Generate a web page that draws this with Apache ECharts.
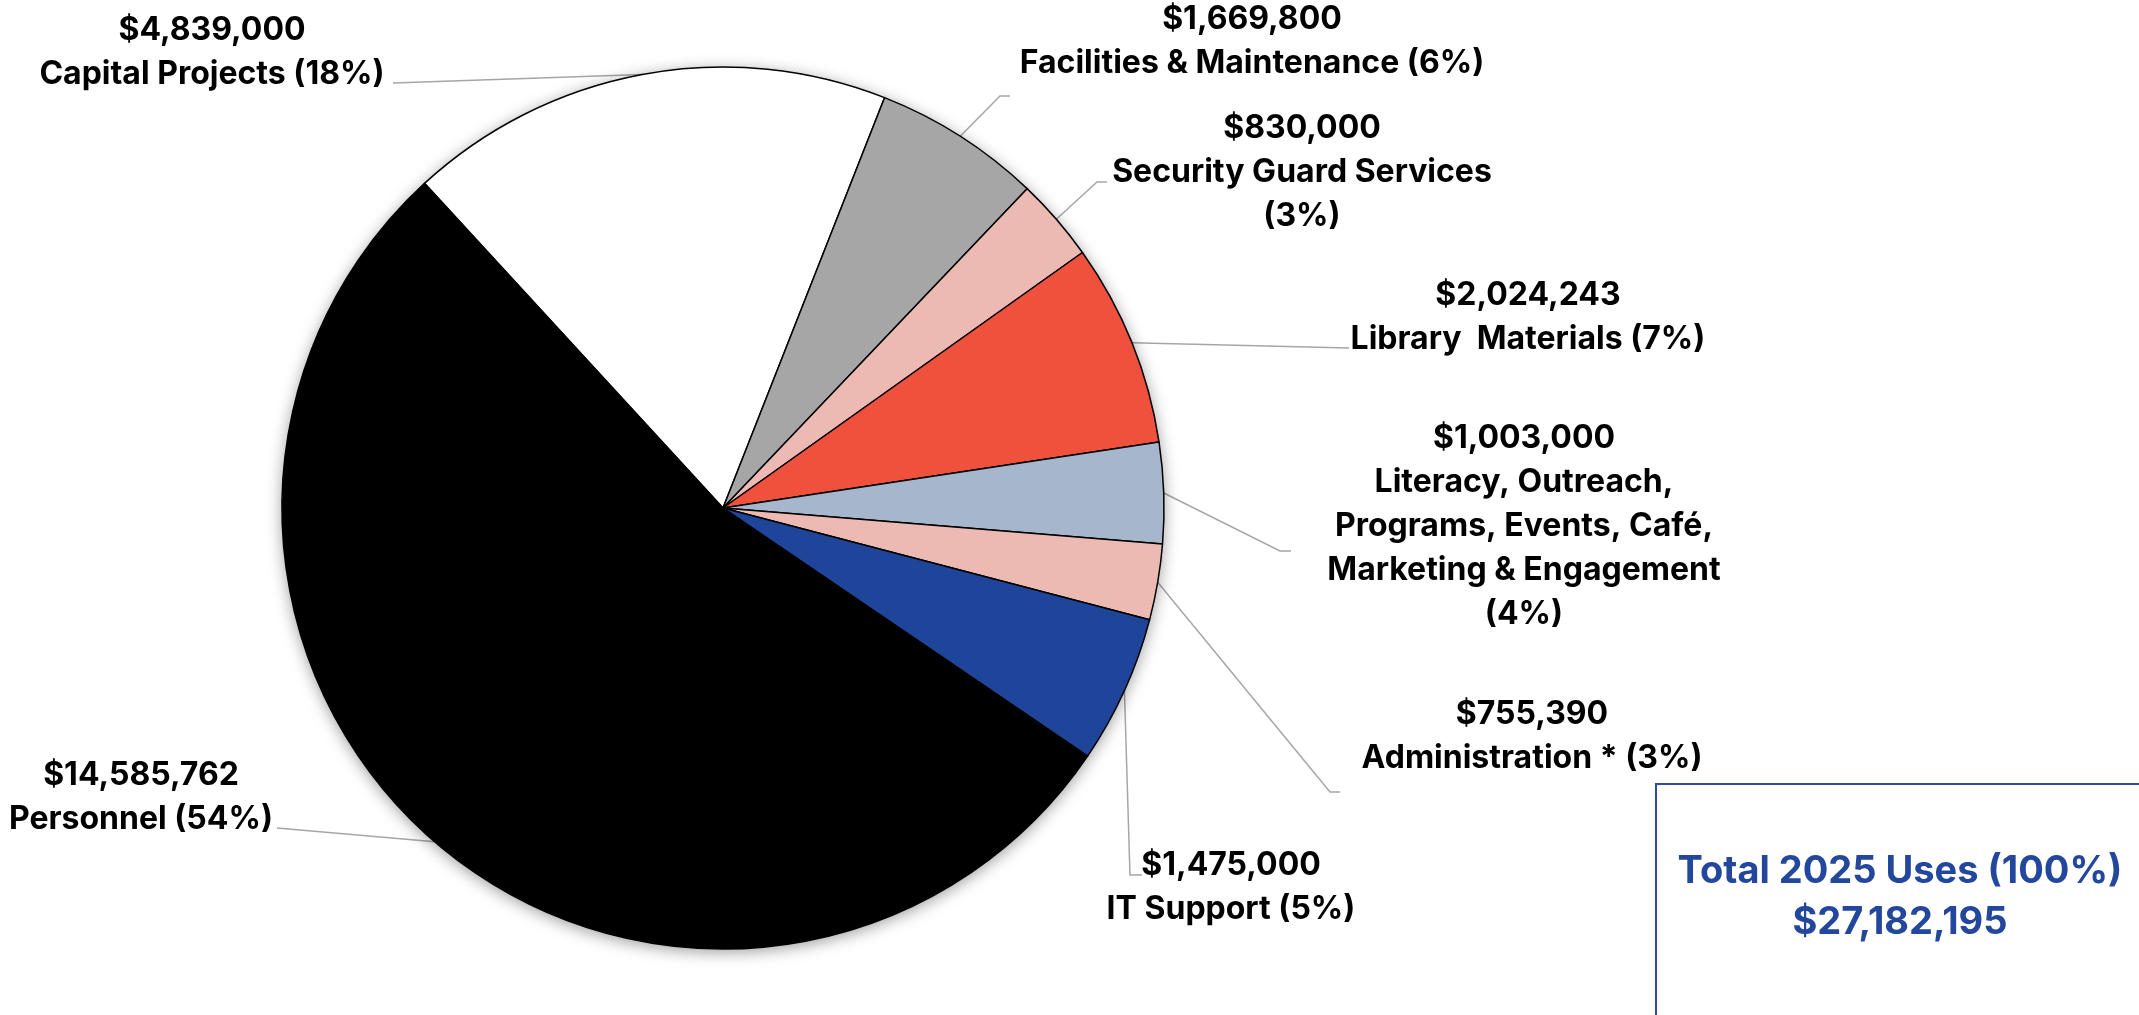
<!DOCTYPE html>
<html>
<head>
<meta charset="utf-8">
<script src="https://cdn.jsdelivr.net/npm/echarts@6/dist/echarts.min.js"></script>
<style>
  html, body { margin: 0; padding: 0; background: #ffffff; }
  #chart { width: 2139px; height: 1015px; }
</style>
</head>
<body>
<div id="chart"></div>
<script>
// 2025 uses of funds, listed clockwise starting from Capital Projects
const categories = [
  'Capital Projects',
  'Facilities & Maintenance',
  'Security Guard Services',
  'Library  Materials',
  'Literacy, Outreach, Programs, Events, Café, Marketing & Engagement',
  'Administration *',
  'IT Support',
  'Personnel'
];
const amounts = [4839000, 1669800, 830000, 2024243, 1003000, 755390, 1475000, 14585762];
const sliceColors = ['#FFFFFF', '#A6A6A6', '#EDBAB3', '#F0513C', '#A6B6CC', '#EDBAB3', '#1F459A', '#000000'];

// how each category name is wrapped in its label (the percentage follows)
const wrappedNames = [
  'Capital Projects ',
  'Facilities & Maintenance ',
  'Security Guard Services\n',
  'Library  Materials ',
  'Literacy, Outreach,\nPrograms, Events, Café,\nMarketing & Engagement\n',
  'Administration * ',
  'IT Support ',
  'Personnel '
];

// label block centres and leader-line bend / end points (page pixels)
const labelAnchors = [[212, 52], [1252, 41], [1302, 172], [1528, 317], [1524, 526], [1532, 736], [1231, 887], [141, 797]];
const leaderBends = [
  [[393, 83], [393, 83]],
  [[1000, 96], [1010, 96]],
  [[1097, 182], [1107, 182]],
  [[1349, 348], [1349, 348]],
  [[1280, 551], [1291, 551]],
  [[1330, 792], [1340, 792]],
  [[1130, 875], [1142, 875]],
  [[277, 828], [277, 828]]
];

const PIE_CENTER = [723, 508];
const PIE_RADIUS = 441;
const LABEL_FONT = 'Inter, "Open Sans", "Liberation Sans", sans-serif';

const money = v => '$' + v.toLocaleString('en-US');
const total = amounts.reduce((a, b) => a + b, 0);

const sliceData = categories.map((name, i) => ({
  name: name,
  value: amounts[i],
  itemStyle: { color: sliceColors[i] }
}));

const chart = echarts.init(document.getElementById('chart'), null, { renderer: 'canvas' });

chart.setOption({
  backgroundColor: '#ffffff',
  animation: false,
  series: [
    {
      // soft drop shadow underneath the pie
      type: 'pie',
      silent: true,
      center: PIE_CENTER,
      radius: PIE_RADIUS,
      startAngle: 132.6,
      clockwise: true,
      label: { show: false },
      labelLine: { show: false },
      itemStyle: {
        color: '#ffffff',
        shadowBlur: 16,
        shadowOffsetX: 0,
        shadowOffsetY: 3,
        shadowColor: 'rgba(0,0,0,0.4)'
      },
      data: amounts.map((v, i) => ({ name: categories[i], value: v }))
    },
    {
      type: 'pie',
      center: PIE_CENTER,
      radius: PIE_RADIUS,
      startAngle: 132.6,
      clockwise: true,
      avoidLabelOverlap: false,
      percentPrecision: 0,
      itemStyle: { borderColor: '#000000', borderWidth: 1.5 },
      emphasis: { disabled: true },
      label: {
        show: true,
        position: 'outside',
        alignTo: 'none',
        overflow: 'none',
        fontFamily: LABEL_FONT,
        fontWeight: 'bold',
        fontSize: 32,
        lineHeight: 44,
        color: '#000000',
        formatter: p => money(p.value) + '\n' + wrappedNames[p.dataIndex] + '(' + p.percent + '%)'
      },
      labelLine: {
        show: true,
        length: 20,
        length2: 10,
        lineStyle: { color: '#A6A6A6', width: 1.5 }
      },
      labelLayout: function (params) {
        const i = params.dataIndex;
        const start = params.labelLinePoints ? params.labelLinePoints[0] : null;
        const out = {
          x: labelAnchors[i][0],
          y: labelAnchors[i][1],
          align: 'center',
          verticalAlign: 'middle'
        };
        if (start) {
          out.labelLinePoints = [start, leaderBends[i][0], leaderBends[i][1]];
        }
        return out;
      },
      data: sliceData
    }
  ],
  graphic: [
    {
      type: 'rect',
      shape: { x: 1656, y: 784, width: 600, height: 400 },
      style: { fill: '#ffffff', stroke: '#2E4C9E', lineWidth: 2 },
      z: 10
    },
    {
      type: 'text',
      x: 1900,
      y: 897,
      z: 11,
      style: {
        text: 'Total 2025 Uses (100%)\n' + money(total),
        fill: '#23479C',
        font: 'bold 38px ' + LABEL_FONT,
        lineHeight: 51,
        align: 'center',
        verticalAlign: 'middle'
      }
    }
  ]
});
</script>
</body>
</html>
